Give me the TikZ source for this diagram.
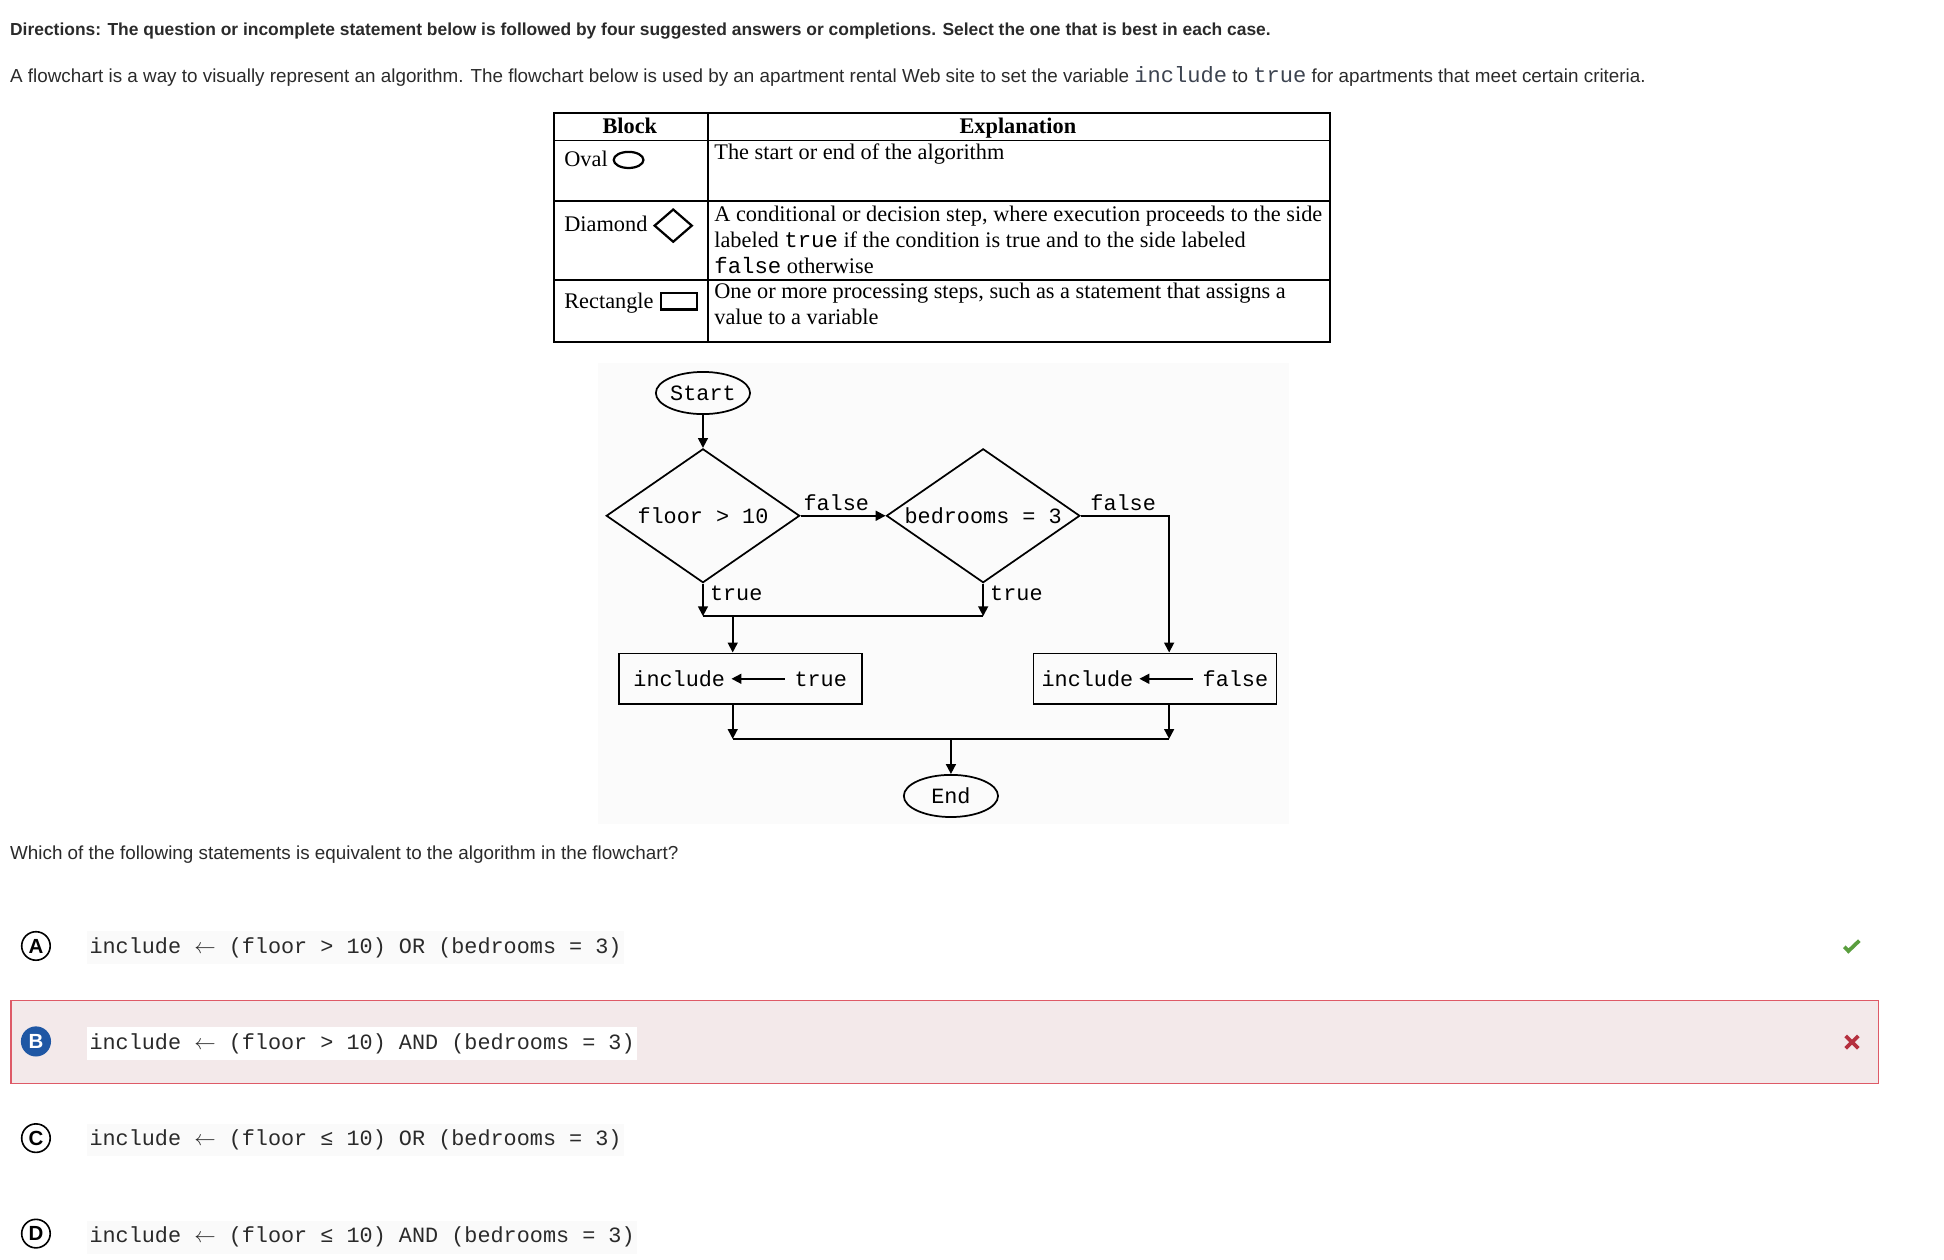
\documentclass[tikz,border=0pt]{standalone}
\usepackage{fontspec}
\setmainfont{Liberation Sans}
\newfontfamily\tabfont{Liberation Serif}
\newfontfamily\codefont{Liberation Mono}
\usetikzlibrary{shapes.geometric,arrows.meta}
\definecolor{bodytext}{HTML}{2A2A2A}
\definecolor{codetext}{HTML}{3C4350}
\definecolor{chartbg}{HTML}{FBFBFB}
\definecolor{optbg}{HTML}{FAFAFA}
\definecolor{wrongfill}{HTML}{F3E9EA}
\definecolor{wrongdraw}{HTML}{DE5A67}
\definecolor{wrongmark}{HTML}{B5303F}
\definecolor{rightmark}{HTML}{5A9E3E}
\definecolor{choiceblue}{HTML}{1F57A4}

\begin{document}
\begin{tikzpicture}[x=1pt, y=-1pt,
    flow/.style={line width=1.4pt, -{Triangle[length=8pt,width=8pt]}},
    wire/.style={line width=1.4pt},
    chart/.style={font={\codefont\fontsize{17.6}{20}\selectfont}},
    oval/.style={chart, draw, line width=1.4pt, ellipse, minimum width=76pt, minimum height=34pt, inner sep=0pt},
    decision/.style={chart, draw, line width=1.4pt, diamond, aspect=1.44, minimum width=156pt, minimum height=108pt, inner sep=0pt},
    process/.style={chart, draw, line width=1.4pt, rectangle, minimum width=196pt, minimum height=41pt, inner sep=0pt},
    cell/.style={anchor=base west, inner sep=0pt, align=left, font={\tabfont\fontsize{18}{21}\selectfont}},
    head/.style={anchor=base, inner sep=0pt, font={\tabfont\bfseries\fontsize{18}{21}\selectfont}},
    prose/.style={anchor=base west, inner sep=0pt, text=bodytext, font={\fontsize{15.2}{18}\selectfont}},
    choice/.style={circle, draw, line width=1.3pt, minimum size=23pt, inner sep=0pt, font={\bfseries\fontsize{16.5}{16.5}\selectfont}},
    option/.style={anchor=base west, fill=optbg, inner xsep=2pt, inner ysep=5pt, font={\codefont\fontsize{17.6}{20}\selectfont}, text=bodytext}
]
\useasboundingbox (0,0) rectangle (1568,1016);

\node[prose, font={\bfseries\fontsize{14.05}{17}\selectfont}] (directions) at (8,28.5) {Directions: The question or incomplete statement below is followed by four suggested answers or completions. Select the one that is best in each case.};
\node[prose] (intro) at (8,66.5) {A flowchart is a way to visually represent an algorithm. The flowchart below is used by an apartment rental Web site to set the variable {\codefont\fontsize{17.8}{17}\selectfont\color{codetext}include} to {\codefont\fontsize{17.8}{17}\selectfont\color{codetext}true} for apartments that meet certain criteria.};

\draw[line width=1.4pt] (447,91) rectangle (1073,276);
\draw[line width=1.2pt] (447,113.5) -- (1073,113.5) (447,162) -- (1073,162) (447,226) -- (1073,226) (571,91) -- (571,276);
\node[head] (hblock) at (508,107.5) {Block};
\node[head] (hexpl) at (821,107.5) {Explanation};
\node[cell] (koval) at (455,134) {Oval};
\draw[line width=1.8pt] (507,129) ellipse (12pt and 6.5pt);
\node[cell] (eoval) at (576,128.5) {The start or end of the algorithm};
\node[cell] (kdiam) at (455,187) {Diamond};
\draw[line width=1.8pt] (528,182) -- (543,169) -- (558,182) -- (543,195) -- cycle;
\node[cell] (ediam) at (576,220.5) {A conditional or decision step, where execution proceeds to the side\\labeled {\codefont true} if the condition is true and to the side labeled\\{\codefont false} otherwise};
\node[cell] (krect) at (455,249) {Rectangle};
\draw[line width=2pt] (533,236.5) rectangle (562,249.5);
\node[cell] (erect) at (576,261.5) {One or more processing steps, such as a statement that assigns a\\value to a variable};

\fill[chartbg] (482,293) rectangle (1040,665);
\node[oval] (start) at (567,317) {Start};
\node[decision] (floor) at (567,416) {floor > 10};
\node[decision] (beds) at (793,416) {bedrooms = 3};
\node[process] (settrue) at (597,547.5) {include\hspace{56pt}true};
\node[process] (setfalse) at (931.5,547.5) {include\hspace{56pt}false};
\node[oval] (end) at (767,642) {End};

\coordinate (jt1) at (567,497);
\coordinate (jt2) at (793,497);
\coordinate (jt) at (591,497);
\coordinate (jf) at ([xshift=11.5pt]setfalse.north);
\coordinate (jb1) at (591,596);
\coordinate (jb2) at (943,596);

\draw[flow] (start.south) -- (floor.north);
\draw[flow] (floor.east) -- node[chart, above, inner sep=3pt, pos=0.42] {false} (beds.west);
\draw[flow] (beds.east) -| node[chart, above, inner sep=3pt, pos=0.24] {false} (jf);
\draw[flow] (floor.south) -- node[chart, right, inner sep=5pt, pos=0.3] {true} (jt1);
\draw[flow] (beds.south) -- node[chart, right, inner sep=5pt, pos=0.3] {true} (jt2);
\draw[wire] (jt1) -- (jt2);
\draw[flow] (jt) -- (jt |- settrue.north);
\draw[flow] ([xshift=36pt]settrue.center) -- ([xshift=-7pt]settrue.center);
\draw[flow] ([xshift=30.5pt]setfalse.center) -- ([xshift=-12.5pt]setfalse.center);
\draw[flow] (settrue.south -| jb1) -- (jb1);
\draw[flow] (setfalse.south -| jb2) -- (jb2);
\draw[wire] (jb1) -- (jb2);
\draw[flow] (end |- jb1) -- (end.north);

\node[prose] (question) at (8,693.5) {Which of the following statements is equivalent to the algorithm in the flowchart?};

\fill[wrongfill] (9,807) rectangle (1515,874);
\draw[wrongdraw, line width=1.2pt] (9,807) rectangle (1515,874);

\node[choice] (ca) at (29,763) {A};
\node[option] (oa) at (70,769) {include $\leftarrow$ (floor > 10) OR (bedrooms = 3)};
\node[choice, fill=choiceblue, draw=choiceblue, text=white] (cb) at (29,840) {B};
\node[option, fill=white] (ob) at (70,846.5) {include $\leftarrow$ (floor > 10) AND (bedrooms = 3)};
\node[choice] (cc) at (29,918) {C};
\node[option] (oc) at (70,924) {include $\leftarrow$ (floor ≤ 10) OR (bedrooms = 3)};
\node[choice] (cd) at (29,995) {D};
\node[option] (od) at (70,1002.5) {include $\leftarrow$ (floor ≤ 10) AND (bedrooms = 3)};

\draw[rightmark, line width=3pt] (1487.6,763.6) -- (1490.9,767.1) -- (1499.7,758.7);
\draw[wrongmark, line width=3pt] (1488.7,835.6) -- (1498.9,845.5) (1498.9,835.6) -- (1488.7,845.5);
\end{tikzpicture}
\end{document}
